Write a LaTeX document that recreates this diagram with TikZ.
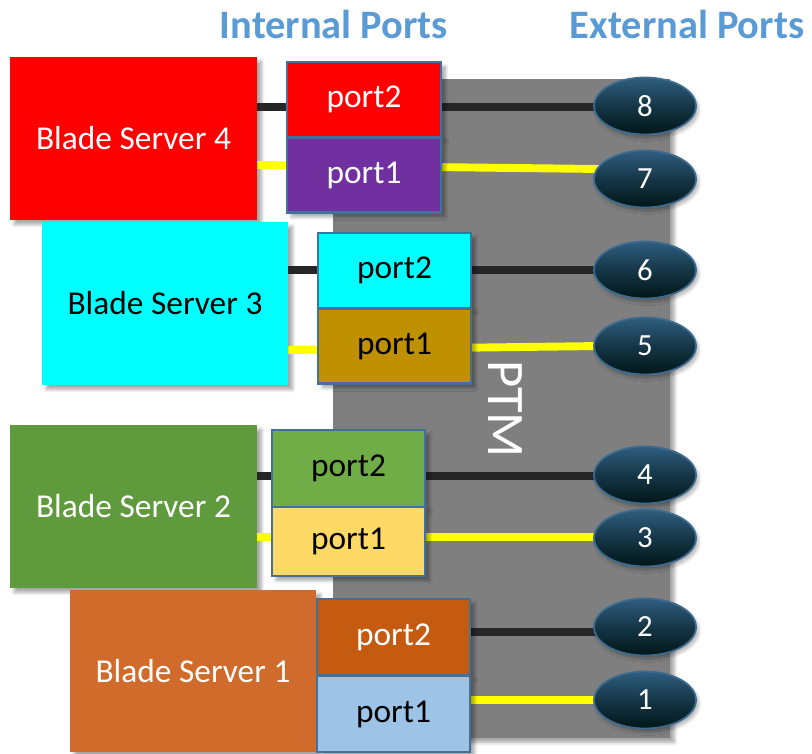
\documentclass[tikz,border=0pt]{standalone}
\usepackage{fontspec}
\setmainfont{Carlito}
\usetikzlibrary{shapes.geometric,shadows.blur}

\definecolor{ptmgray}{HTML}{7F7F7F}
\definecolor{edgeblue}{HTML}{41719C}
\definecolor{headblue}{HTML}{5B9BD5}
\definecolor{wireblack}{HTML}{262626}
\definecolor{wireyellow}{HTML}{FFFF00}
\definecolor{srvred}{HTML}{FF0000}
\definecolor{srvcyan}{HTML}{00FFFF}
\definecolor{srvgreen}{HTML}{5F9B3C}
\definecolor{srvorange}{HTML}{D06B2B}
\definecolor{prtpurple}{HTML}{7030A0}
\definecolor{prtgold}{HTML}{BF9000}
\definecolor{prtgreen}{HTML}{70AD47}
\definecolor{prtsand}{HTML}{FFD966}
\definecolor{prtrust}{HTML}{C55A11}
\definecolor{prtsky}{HTML}{9DC3E6}
\definecolor{ovaltop}{HTML}{2F5E80}
\definecolor{ovalbot}{HTML}{001618}
\definecolor{ovaledge}{HTML}{3D6B90}

\tikzset{
  sz/.style 2 args={minimum width=#1*0.02cm, minimum height=#2*0.02cm},
  soft/.style={blur shadow={shadow xshift=2.5pt, shadow yshift=-2.5pt,
      shadow blur steps=6, shadow opacity=35}},
  server/.style={rectangle, inner sep=0pt, soft,
      font=\fontsize{19}{22}\selectfont},
  portbox/.style={rectangle, inner sep=0pt, draw=edgeblue, line width=1.2pt,
      soft, font=\fontsize{19}{22}\selectfont},
  extport/.style={ellipse, inner sep=0pt, sz={102}{57}, draw=ovaledge,
      line width=1pt, top color=ovaltop, bottom color=ovalbot,
      middle color=ovaltop!45!ovalbot, text=white,
      blur shadow={shadow xshift=1.5pt, shadow yshift=-2pt,
      shadow blur steps=5, shadow opacity=30},
      font=\fontsize{17.5}{20}\selectfont},
  heading/.style={text=headblue, font=\fontsize{23}{26}\selectfont\bfseries},
  blk/.style={draw=wireblack, line width=4.5pt},
  yel/.style={draw=wireyellow, line width=4.5pt},
}

\begin{document}
\begin{tikzpicture}[x=0.02cm, y=-0.02cm]
  \useasboundingbox (0,0) rectangle (812,754);

  % PTM chassis
  \node[rectangle, fill=ptmgray, inner sep=0pt, sz={337}{659}, soft] (ptm) at (501.5,408.5) {};
  \node[text=white, rotate=-90, font=\fontsize{30}{32}\selectfont] (ptmlbl) at (505,409) {PTM};

  % headings
  \node[heading] (hint) at (334,24) {Internal Ports};
  \node[heading] (hext) at (687,24) {External Ports};

  % blade servers
  \node[server, fill=srvred, text=white, sz={247}{163}] (s4) at (133.5,138.5) {Blade Server 4};
  \node[server, fill=srvcyan, text=black, sz={246}{163}] (s3) at (165,303.5) {Blade Server 3};
  \node[server, fill=srvgreen, text=white, sz={247}{163}] (s2) at (133.5,506.5) {Blade Server 2};
  \node[server, fill=srvorange, text=white, sz={246}{162}] (s1) at (193,671) {Blade Server 1};

  % wire ends at the external ports
  \coordinate (w8) at (600,107);
  \coordinate (w7) at (600,169);
  \coordinate (w6) at (600,270);
  \coordinate (w5) at (600,346);
  \coordinate (w4) at (600,476);
  \coordinate (w3) at (600,537);
  \coordinate (w2) at (600,632);
  \coordinate (w1) at (600,700);

  % wires, run behind the internal ports and under the ovals
  \path[blk] (s4.east |- w8) -- (w8);
  \path[yel] (s4.east) ++(0,26.5) -- (w7);
  \path[blk] (s3.east |- w6) -- (w6);
  \path[yel] (s3.east) ++(0,46.5) -- (w5);
  \path[blk] (s2.east |- w4) -- (w4);
  \path[yel] (s2.east |- w3) -- (w3);
  \path[blk] (s1.east |- w2) -- (w2);
  \path[yel] (s1.east |- w1) -- (w1);

  % internal ports
  \node[portbox, fill=srvred, text=white, sz={154}{75}] (p42) at (364,99.5) {port2};
  \node[portbox, fill=prtpurple, text=white, sz={154}{75}] (p41) at (364,175) {port1};
  \node[portbox, fill=srvcyan, text=black, sz={153}{75}] (p32) at (394.5,270.5) {port2};
  \node[portbox, fill=prtgold, text=black, sz={153}{75}] (p31) at (394.5,346) {port1};
  \node[portbox, fill=prtgreen, text=black, sz={153}{77}] (p22) at (348.5,468.5) {port2};
  \node[portbox, fill=prtsand, text=black, sz={153}{69}] (p21) at (348.5,541.5) {port1};
  \node[portbox, fill=prtrust, text=white, sz={153}{76}] (p12) at (393.5,637) {port2};
  \node[portbox, fill=prtsky, text=black, sz={153}{76}] (p11) at (393.5,714) {port1};

  % external ports
  \node[extport] (e8) at (645,106) {8};
  \node[extport] (e7) at (645,179) {7};
  \node[extport] (e6) at (645,270) {6};
  \node[extport] (e5) at (645,346) {5};
  \node[extport] (e4) at (645,475) {4};
  \node[extport] (e3) at (645,538) {3};
  \node[extport] (e2) at (645,627) {2};
  \node[extport] (e1) at (645,700) {1};
\end{tikzpicture}
\end{document}
